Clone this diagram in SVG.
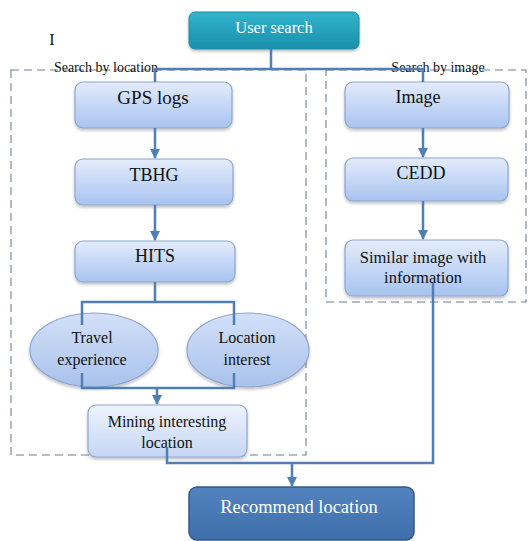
<svg xmlns="http://www.w3.org/2000/svg" width="528" height="541" viewBox="0 0 528 541">
<defs>
<linearGradient id="gBox" x1="0" y1="0" x2="0" y2="1"><stop offset="0" stop-color="#e3ecfc"/><stop offset="1" stop-color="#a8c3ef"/></linearGradient>
<linearGradient id="gEll" x1="0" y1="0" x2="0" y2="1"><stop offset="0" stop-color="#d3e0f8"/><stop offset="1" stop-color="#a9c2ec"/></linearGradient>
<linearGradient id="gMine" x1="0" y1="0" x2="0" y2="1"><stop offset="0" stop-color="#eef3fd"/><stop offset="1" stop-color="#c4d6f4"/></linearGradient>
<linearGradient id="gTeal" x1="0" y1="0" x2="0" y2="1"><stop offset="0" stop-color="#33b4cc"/><stop offset="1" stop-color="#1a8fab"/></linearGradient>
<linearGradient id="gRec" x1="0" y1="0" x2="0" y2="1"><stop offset="0" stop-color="#5283bf"/><stop offset="1" stop-color="#3e6fab"/></linearGradient>
<filter id="sh" x="-10%" y="-10%" width="120%" height="130%"><feDropShadow dx="0" dy="2" stdDeviation="1.5" flood-color="#000" flood-opacity="0.25"/></filter>
<marker id="arr" viewBox="0 0 10 10" refX="9" refY="5" markerWidth="4" markerHeight="4" orient="auto" markerUnits="strokeWidth"><path d="M0,0 L10,5 L0,10 z" fill="#4f7fb5"/></marker>
</defs>
<style>
.box{fill:url(#gBox);stroke:#8ea5cf;stroke-width:1.2;filter:url(#sh)}
.ell{fill:url(#gEll);stroke:#8ea5cf;stroke-width:1.2;filter:url(#sh)}
text{font-family:'Liberation Serif','Times New Roman',serif;fill:#111;text-anchor:middle}
text.w{fill:#fff}
.dash{fill:none;stroke:#6f8094;stroke-width:1.1;stroke-dasharray:8 5}
.c{fill:none;stroke:#4f7fb5;stroke-width:2.5}
</style>
<rect width="528" height="541" fill="#fff"/>
<g id="regions">
<rect class="dash" x="11" y="70" width="295" height="385"/>
<rect class="dash" x="326" y="70" width="200" height="232"/>
<text x="106" y="72" font-size="14">Search by location</text>
<text x="438" y="72" font-size="14">Search by image</text>
<text x="52" y="45" font-size="16">I</text>
</g>
<g id="user-search">
<rect x="189" y="12" width="170" height="37" rx="6" fill="url(#gTeal)" stroke="#1a8ca8" filter="url(#sh)"/>
<text class="w" x="274" y="33" font-size="16.5">User search</text>
</g>
<g id="gps-logs">
<rect class="box" x="75" y="82" width="157" height="46" rx="8"/>
<text x="153" y="104" font-size="19">GPS logs</text>
</g>
<g id="tbhg">
<rect class="box" x="75" y="159" width="158" height="46" rx="8"/>
<text x="154" y="181" font-size="18">TBHG</text>
</g>
<g id="hits">
<rect class="box" x="75" y="241" width="160" height="41" rx="8"/>
<text x="155" y="262" font-size="18">HITS</text>
</g>
<g id="travel-experience">
<ellipse class="ell" cx="94" cy="350" rx="64" ry="37"/>
<text x="92" y="343" font-size="16">Travel</text>
<text x="92" y="365" font-size="16">experience</text>
</g>
<g id="location-interest">
<ellipse class="ell" cx="248" cy="350" rx="61" ry="37"/>
<text x="247" y="343" font-size="16">Location</text>
<text x="247" y="365" font-size="16">interest</text>
</g>
<g id="mining">
<rect x="88" y="405" width="159" height="52" rx="8" fill="url(#gMine)" stroke="#8ea5cf" stroke-width="1.2" filter="url(#sh)"/>
<text x="167" y="427" font-size="16">Mining interesting</text>
<text x="167" y="448" font-size="16">location</text>
</g>
<g id="image">
<rect class="box" x="345" y="82" width="164" height="46" rx="8"/>
<text x="418" y="103" font-size="18">Image</text>
</g>
<g id="cedd">
<rect class="box" x="345" y="158" width="163" height="43" rx="8"/>
<text x="421" y="179" font-size="18">CEDD</text>
</g>
<g id="similar">
<rect class="box" x="345" y="240" width="163" height="56" rx="8"/>
<text x="423" y="263" font-size="16.5">Similar image with</text>
<text x="423" y="283" font-size="16.5">information</text>
</g>
<g id="recommend">
<rect x="189" y="487" width="225" height="53" rx="8" fill="url(#gRec)" stroke="#2f5a8a" stroke-width="1.5"/>
<text class="w" x="299" y="513" font-size="18.5">Recommend location</text>
</g>
<g id="connectors">
<path class="c" d="M271,49 V69 M155,69 H423 M155,68 V82 M423,68 V82"/>
<path class="c" d="M155,128 V158" marker-end="url(#arr)"/>
<path class="c" d="M155,205 V240" marker-end="url(#arr)"/>
<path class="c" d="M423,128 V157" marker-end="url(#arr)"/>
<path class="c" d="M423,201 V239" marker-end="url(#arr)"/>
<path class="c" d="M155,282 V302 M82,302 H234 M82,301 V325 M234,301 V325"/>
<path class="c" d="M82,373 V388 H234 V373"/>
<path class="c" d="M157,388 V404" marker-end="url(#arr)"/>
<path class="c" d="M167,447 V463 H433 V283"/>
<path class="c" d="M292,463 V486" marker-end="url(#arr)"/>
</g>
</svg>
